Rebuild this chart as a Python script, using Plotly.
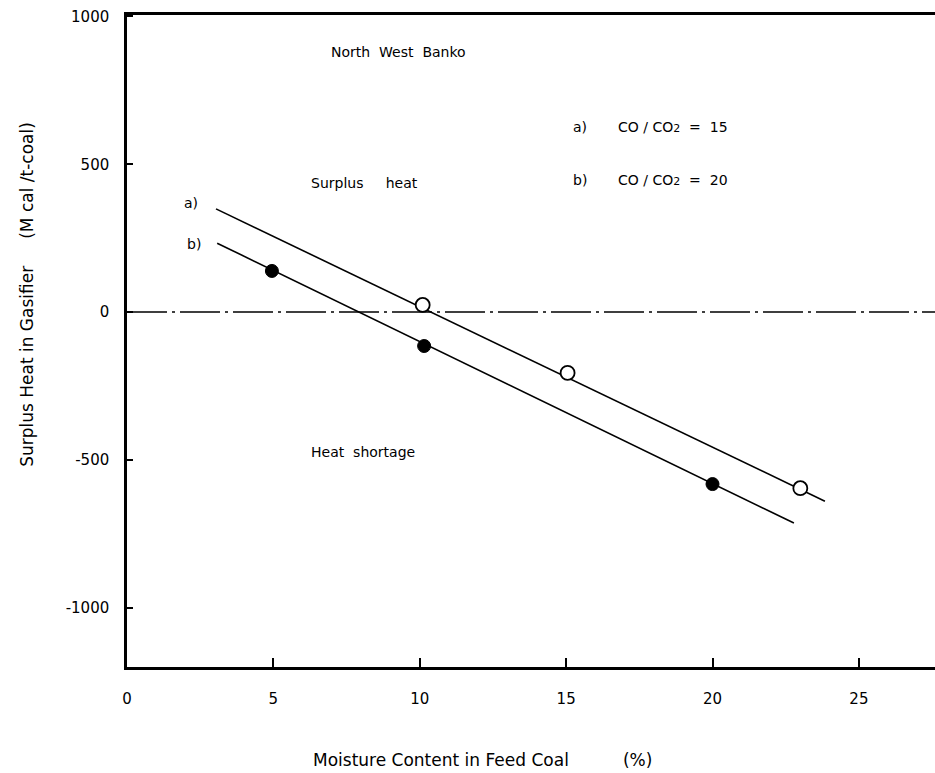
import plotly.graph_objects as go

# Data
line_a_x = [3.04, 23.84]
line_a_y = [349, -640]
line_b_x = [3.08, 22.78]
line_b_y = [233, -714]

pts_a_x = [10.1, 15.05, 23.0]      # CO/CO2 = 15 (open circles)
pts_a_y = [24, -206, -596]
pts_b_x = [4.95, 10.15, 20.0]      # CO/CO2 = 20 (filled circles)
pts_b_y = [139, -115, -582]

zero_x = [0, 27.6]
zero_y = [0, 0]

x_tickvals = [0, 5, 10, 15, 20, 25]
x_ticktext = ["0", "5", "10", "15", "20", "25"]
y_tickvals = [1000, 500, 0, -500, -1000]
y_ticktext = ["1000", "500", "0", "-500", "-1000"]

FONT = "DejaVu Sans"
fig = go.Figure()

fig.add_trace(go.Scatter(x=zero_x, y=zero_y, mode="lines",
                         line=dict(color="black", width=1.4, dash="40px,5px,3px,5px"),
                         showlegend=False, hoverinfo="skip"))
fig.add_trace(go.Scatter(x=line_a_x, y=line_a_y, mode="lines",
                         line=dict(color="black", width=1.6), showlegend=False))
fig.add_trace(go.Scatter(x=line_b_x, y=line_b_y, mode="lines",
                         line=dict(color="black", width=1.6), showlegend=False))
fig.add_trace(go.Scatter(x=pts_a_x, y=pts_a_y, mode="markers",
                         marker=dict(symbol="circle", size=14, color="white",
                                     line=dict(color="black", width=1.8)),
                         showlegend=False))
fig.add_trace(go.Scatter(x=pts_b_x, y=pts_b_y, mode="markers",
                         marker=dict(symbol="circle", size=13, color="black",
                                     line=dict(color="black", width=1)),
                         showlegend=False))

ann = []
def txt(x, y, s, size=14, xanchor="left", xref="x", yref="y", angle=0):
    ann.append(dict(x=x, y=y, xref=xref, yref=yref, text=s, showarrow=False,
                    xanchor=xanchor, yanchor="middle", textangle=angle,
                    font=dict(family=FONT, size=size, color="black")))

sub2 = '<span style="font-size:11px">2</span>'
txt(6.9, 879, "North  West  Banko")
txt(6.22, 436, "Surplus     heat")
txt(6.22, -473, "Heat  shortage")
txt(2.19, 369, "a)", xanchor="center")
txt(2.29, 230, "b)", xanchor="center")
txt(15.46, 626, "a)", xanchor="center")
txt(15.46, 446, "b)", xanchor="center")
txt(16.72, 626, "CO / CO" + sub2 + "  =  15")
txt(16.72, 446, "CO / CO" + sub2 + "  =  20")

# axis titles
txt(-0.124, 0.572, "Surplus Heat in Gasifier     (M cal /t-coal)", size=17,
    xanchor="center", xref="paper", yref="paper", angle=-90)
txt(0.44, -0.143, "Moisture Content in Feed Coal          (%)", size=17,
    xanchor="center", xref="paper", yref="paper")

fig.update_layout(
    width=935, height=773,
    margin=dict(l=127, r=0, t=15, b=106),
    plot_bgcolor="white", paper_bgcolor="white",
    annotations=ann,
    font=dict(family=FONT, color="black"),
)
fig.update_xaxes(range=[0, 27.6], showgrid=False, zeroline=False,
                 showline=True, linecolor="black", linewidth=2.5, mirror=True,
                 ticks="inside", ticklen=9, tickwidth=1.5, tickcolor="black",
                 tickvals=x_tickvals, ticktext=x_ticktext,
                 tickfont=dict(family=FONT, size=15, color="black"),
                 ticklabelstandoff=16)
fig.update_yaxes(range=[-1201, 1005], showgrid=False, zeroline=False,
                 showline=True, linecolor="black", linewidth=2.5, mirror=False,
                 ticks="inside", ticklen=6, tickwidth=1.5, tickcolor="black",
                 tickvals=y_tickvals, ticktext=y_ticktext,
                 tickfont=dict(family=FONT, size=15, color="black"),
                 ticklabelstandoff=12)

fig.write_html("out.html")
